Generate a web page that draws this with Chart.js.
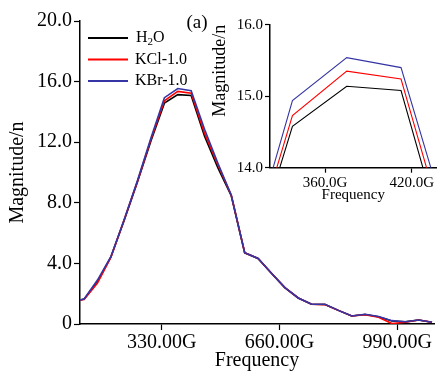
<!DOCTYPE html>
<html>
<head>
<meta charset="utf-8">
<script src="https://cdn.jsdelivr.net/npm/chart.js@4"></script>
<style>
  body { margin: 0; background: #fff; }
  #wrap { position: relative; width: 437px; height: 375px; }
  #main { position: absolute; left: 0; top: 0; }
  #inset { position: absolute; left: 200px; top: 0; }
</style>
</head>
<body>
<div id="wrap">
  <canvas id="main" width="437" height="375"></canvas>
  <canvas id="inset" width="237" height="210"></canvas>
</div>
<script>
const frequency = [101, 112.5, 150, 187.5, 225, 262.5, 300, 337.5, 375, 412.5, 450, 487.5, 525, 562.5,
  600, 637.5, 675, 712.5, 750, 787.5, 825, 862.5, 900, 937.5, 975, 1012.5, 1050, 1087.5];
const h2o = [1.58, 1.64, 2.8, 4.42, 6.85, 9.4, 12.1, 14.58, 15.14, 15.08, 12.4, 10.3, 8.45, 4.7,
  4.33, 3.35, 2.4, 1.72, 1.3, 1.29, 0.9, 0.53, 0.63, 0.48, 0.2, 0.14, 0.26, 0.12];
const kcl = [1.58, 1.62, 2.7, 4.4, 6.9, 9.45, 12.2, 14.73, 15.35, 15.24, 12.6, 10.5, 8.5, 4.7,
  4.33, 3.35, 2.4, 1.72, 1.3, 1.28, 0.9, 0.53, 0.62, 0.45, 0.03, 0.12, 0.26, 0.12];
const kbr = [1.58, 1.65, 2.9, 4.44, 6.9, 9.5, 12.3, 14.94, 15.54, 15.4, 12.85, 10.6, 8.5, 4.7,
  4.33, 3.35, 2.4, 1.72, 1.3, 1.3, 0.9, 0.53, 0.64, 0.5, 0.22, 0.15, 0.26, 0.12];
const seriesNames = ["H2O", "KCl-1.0", "KBr-1.0"];
const mainXTicks = [330, 660, 990];
const mainYTicks = [0, 4, 8, 12, 16, 20];
const insetXTicks = [360, 420];
const insetYTicks = [14, 15, 16];

const serif = "'Liberation Serif', 'Times New Roman', serif";
const colors = ["#000000", "#ff0000", "#3535a5"];
const values = [h2o, kcl, kbr];

function makeDatasets(width) {
  return values.map((v, i) => ({
    label: seriesNames[i],
    data: frequency.map((f, j) => ({ x: f, y: v[j] })),
    borderColor: colors[i],
    borderWidth: width,
    pointRadius: 0,
    fill: false,
    tension: 0,
    order: 2 - i,
  }));
}

function axis(min, max, ticks, fmt, size, tickLen, pad, fitSize, title) {
  return {
    type: "linear",
    min: min,
    max: max,
    afterBuildTicks: (a) => { a.ticks = ticks.map((v) => ({ value: v })); },
    afterFit: (a) => {
      if (a.isHorizontal()) a.height = fitSize; else a.width = fitSize;
    },
    ticks: {
      callback: fmt,
      color: "#000",
      font: { family: serif, size: size },
      padding: pad,
      maxRotation: 0,
      autoSkip: false,
    },
    grid: { drawOnChartArea: false, drawTicks: true, tickLength: tickLen, color: "#000", tickWidth: 1.2 },
    border: { display: true, color: "#000", width: 1.5 },
    title: title,
  };
}

const legendPlugin = {
  id: "legendText",
  afterDraw(chart) {
    const ctx = chart.ctx;
    ctx.save();
    const ys = [38, 59.5, 81];
    ys.forEach((y, i) => {
      ctx.strokeStyle = colors[i];
      ctx.lineWidth = 2;
      ctx.beginPath();
      ctx.moveTo(88, y);
      ctx.lineTo(128, y);
      ctx.stroke();
      ctx.fillStyle = "#000";
      ctx.textBaseline = "middle";
      ctx.font = "16px " + serif;
      if (i === 0) {
        let x = 136;
        ctx.fillText("H", x, y);
        x += ctx.measureText("H").width;
        ctx.font = "11px " + serif;
        ctx.fillText("2", x, y + 4);
        x += ctx.measureText("2").width;
        ctx.font = "16px " + serif;
        ctx.fillText("O", x, y);
      } else {
        ctx.fillText(seriesNames[i], 135, y);
      }
    });
    ctx.font = "19px " + serif;
    ctx.textAlign = "center";
    ctx.fillText("(a)", 197, 23);
    ctx.restore();
  },
};

new Chart(document.getElementById("main"), {
  type: "line",
  data: { datasets: makeDatasets(1.6) },
  options: {
    responsive: false,
    animation: false,
    layout: { padding: { top: 21, right: 3, left: 0, bottom: 0 } },
    scales: {
      x: axis(101, 1093, mainXTicks, (v) => v.toFixed(2) + "G", 20, 6, 1, 51,
        { display: true, text: "Frequency", color: "#000", font: { family: serif, size: 20 }, padding: { top: 0, bottom: 2 } }),
      y: axis(0, 20, mainYTicks, (v) => (v === 0 ? "0" : v.toFixed(1)), 20, 6, 2, 80,
        { display: true, text: "Magnitude/n", color: "#000", font: { family: serif, size: 20 }, padding: { top: 6, bottom: 0 } }),
    },
    plugins: { legend: { display: false }, tooltip: { enabled: false } },
  },
  plugins: [legendPlugin],
});

new Chart(document.getElementById("inset"), {
  type: "line",
  data: { datasets: makeDatasets(1.1) },
  options: {
    responsive: false,
    animation: false,
    layout: { padding: { top: 24.7, right: 0.5, left: 0, bottom: 0 } },
    scales: {
      x: axis(322, 437, insetXTicks, (v) => v.toFixed(1) + "G", 15, 5, 1, 42.3,
        { display: true, text: "Frequency", color: "#000", font: { family: serif, size: 15 }, padding: { top: 0, bottom: 6 } }),
      y: axis(14, 16, insetYTicks, (v) => v.toFixed(1), 15, 5, 2, 70,
        { display: true, text: "Magnitude/n", align: "end", color: "#000", font: { family: serif, size: 18 }, padding: { top: 9, bottom: 0 } }),
    },
    plugins: { legend: { display: false }, tooltip: { enabled: false } },
  },
});
</script>
</body>
</html>
